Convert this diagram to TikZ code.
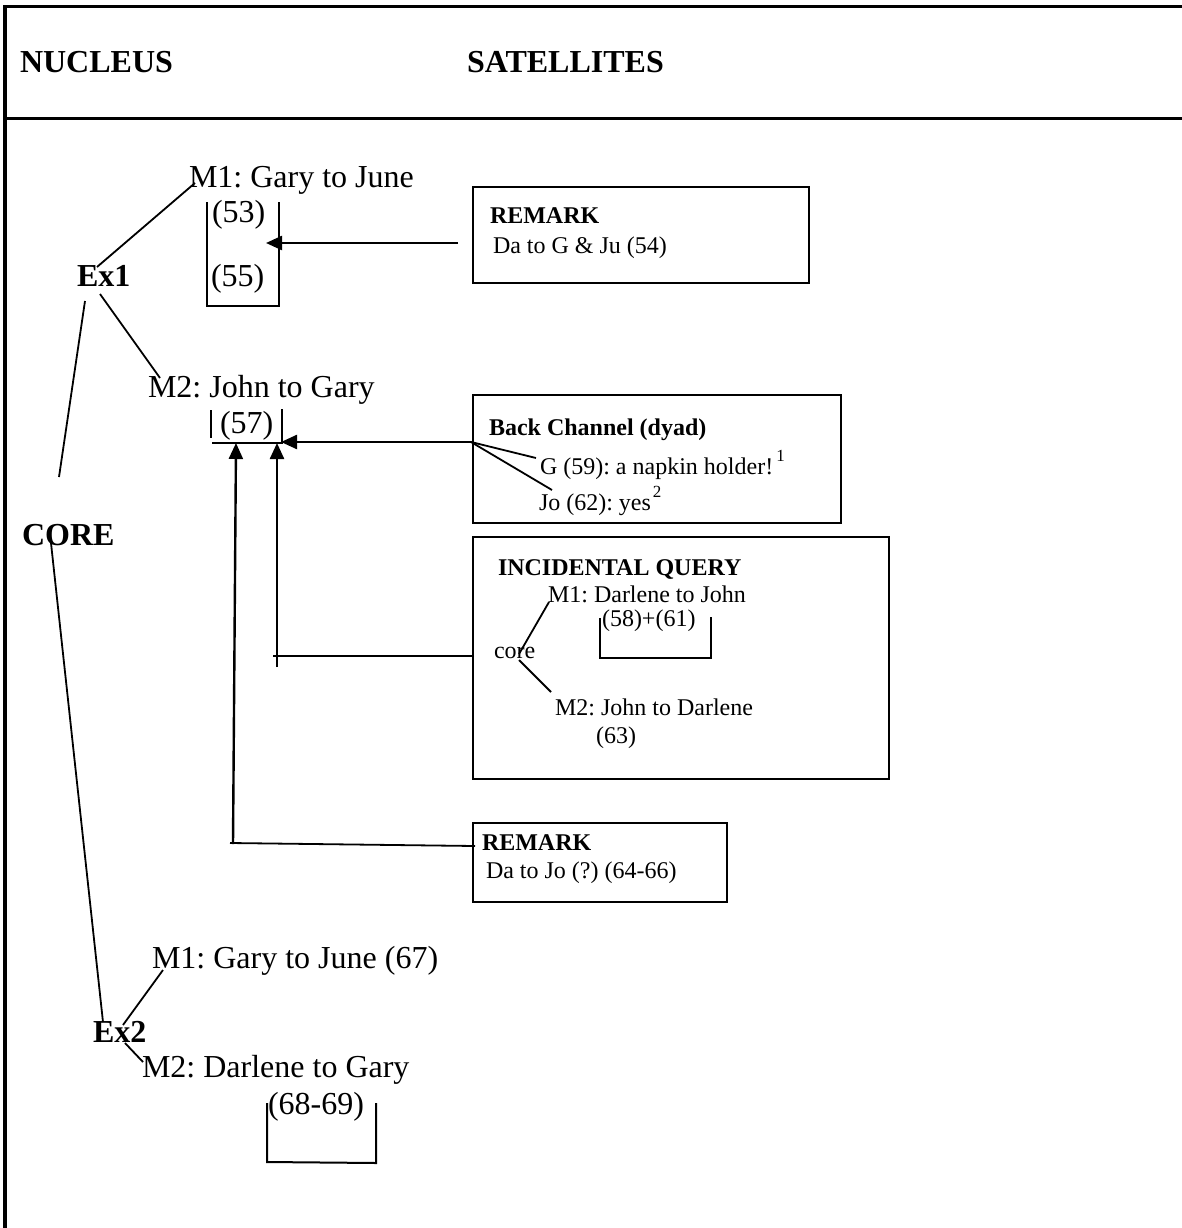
\documentclass[tikz,border=0pt]{standalone}
\usepackage{fontspec}
\setmainfont{Liberation Serif}
\usetikzlibrary{arrows.meta}
\frenchspacing
\begin{document}
\begin{tikzpicture}[x=1pt,y=-1pt,
  lbl/.style={anchor=base west,inner sep=0pt,outer sep=0pt},
  big/.style={lbl,font=\fontsize{32}{38}\selectfont},
  bigb/.style={lbl,font=\fontsize{32}{38}\selectfont\bfseries},
  sm/.style={lbl,font=\fontsize{24}{29}\selectfont},
  smb/.style={lbl,font=\fontsize{24}{29}\selectfont\bfseries},
  frameline/.style={line width=3.2pt},
  conn/.style={line width=1.8pt},
  brk/.style={line width=2pt},
  satbox/.style={draw,line width=2.2pt,anchor=north west,inner sep=0pt},
  arr/.style={line width=2.4pt,-{Triangle[length=16pt,width=14pt]}}
]
\useasboundingbox (0,0) rectangle (1182,1228);

% frame
\draw[frameline] (5,1232) -- (5,6.5) -- (1186,6.5);
\draw[frameline] (5,118.5) -- (1186,118.5);

% header
\node[bigb] (nucleus) at (20,73) {NUCLEUS};
\node[bigb] (satellites) at (467,73) {SATELLITES};

% nucleus tree
\node[bigb] (ex1) at (77,286) {Ex1};
\node[big] (m1a) at (189,187) {M1: Gary to June};
\node[big] (p53) at (212,222) {(53)};
\node[big] (p55) at (211,286) {(55)};
\draw[brk] (207,202) -- (207,306) -- (279,306) -- (279,202);

\node[big] (m2a) at (148,397) {M2: John to Gary};
\node[big] (p57) at (220,433) {(57)};
\draw[brk] (211,410) -- (211,438);
\draw[brk] (282,409) -- (282,443);
\draw[brk] (212,443) -- (283,443);

\node[bigb] (core) at (22,545) {CORE};
\node[bigb] (ex2) at (93,1042) {Ex2};
\node[big] (m1b) at (152,968) {M1: Gary to June (67)};
\node[big] (m2b) at (142,1077) {M2: Darlene to Gary};
\node[big] (p6869) at (268,1114) {(68-69)};
\draw[brk] (267,1103) -- (267,1162) -- (376,1163) -- (376,1103);

\coordinate (ex1ne) at (97,267);
\coordinate (m1asw) at (195,183);
\coordinate (ex1se) at (100,294);
\coordinate (m2anw) at (160,378);
\coordinate (ex1s) at (85,301);
\coordinate (coren) at (59,477);
\coordinate (cores) at (51,543);
\coordinate (ex2n) at (103,1022);
\coordinate (ex2ne) at (123,1025);
\coordinate (m1bsw) at (163,970);
\coordinate (ex2se) at (125,1043);
\coordinate (m2bnw) at (143,1062);
\draw[conn] (ex1ne) -- (m1asw);
\draw[conn] (ex1se) -- (m2anw);
\draw[conn] (ex1s) -- (coren);
\draw[conn] (cores) -- (ex2n);
\draw[conn] (ex2ne) -- (m1bsw);
\draw[conn] (ex2se) -- (m2bnw);

% remark 1
\node[satbox, minimum width=336, minimum height=96] (rem1) at (472,186) {};
\node[smb] (rem1t) at (490,223) {REMARK};
\node[sm] (rem1x) at (493,253) {Da to G \& Ju (54)};
\coordinate (rem1s) at (458,243);
\coordinate (rem1e) at (266,243);
\draw[arr] (rem1s) -- (rem1e);

% back channel
\node[satbox, minimum width=368, minimum height=128] (bcbox) at (472,394) {};
\node[smb] (bctitle) at (489,435) {Back Channel (dyad)};
\node[sm] (g59) at (540,474) {G (59): a napkin holder!\hspace{3pt}\raisebox{13pt}{\fontsize{17}{17}\selectfont 1}};
\node[sm] (jo62) at (539,510) {Jo (62): yes\hspace{2pt}\raisebox{13pt}{\fontsize{17}{17}\selectfont 2}};
\coordinate (bcj) at (471,442);
\coordinate (gend) at (536,458);
\coordinate (joend) at (552,490);
\coordinate (tip57) at (281,442);
\draw[arr] (bcj) -- (tip57);
\draw[conn] (bcj) -- (gend);
\draw[conn] (bcj) -- (joend);

% incidental query
\node[satbox, minimum width=416, minimum height=242] (iqbox) at (472,536) {};
\node[smb] (iqtitle) at (498,575) {INCIDENTAL QUERY};
\node[sm] (iqm1) at (548,602) {M1: Darlene to John};
\node[sm] (p5861) at (602,626) {(58)+(61)};
\draw[brk] (600,618) -- (600,658) -- (711,658) -- (711,617);
\node[sm] (core2) at (494,658) {core};
\node[sm] (iqm2) at (555,715) {M2: John to Darlene};
\node[sm] (p63) at (596,743) {(63)};
\coordinate (core2ne) at (519,654);
\coordinate (iqm1sw) at (549,602);
\coordinate (core2se) at (519,660);
\coordinate (iqm2nw) at (551,692);
\draw[conn] (core2ne) -- (iqm1sw);
\draw[conn] (core2se) -- (iqm2nw);
\coordinate (iqj) at (474,656);
\coordinate (iqc) at (273,656);
\coordinate (iqv) at (277,667);
\coordinate (iqtip) at (277,443);
\draw[arr] (iqv) -- (iqtip);
\draw[conn] (iqj) -- (iqc);

% remark 2
\node[satbox, minimum width=254, minimum height=79] (rem2) at (472,822) {};
\node[smb] (rem2t) at (482,850) {REMARK};
\node[sm] (rem2x) at (486,878) {Da to Jo (?) (64-66)};
\coordinate (rem2j) at (475,846);
\coordinate (rem2c) at (230,843);
\coordinate (rem2v) at (233,844);
\coordinate (rem2tip) at (236,443);
\draw[conn] (rem2j) -- (rem2c);
\draw[arr] (rem2v) -- (rem2tip);
\end{tikzpicture}
\end{document}
